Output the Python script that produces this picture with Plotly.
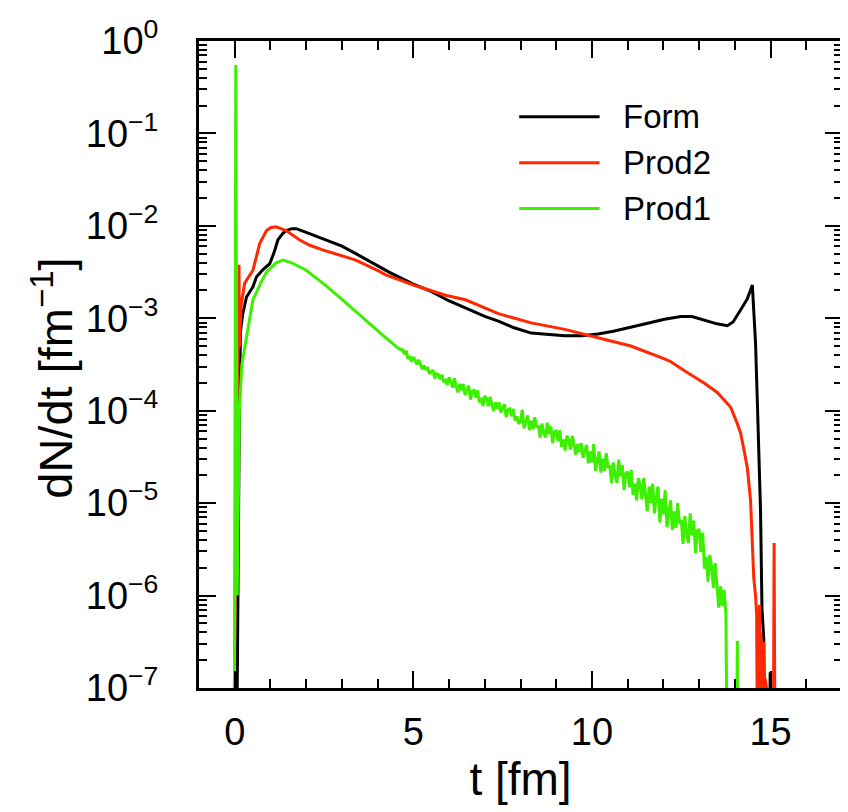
import plotly.graph_objects as go

# ---------------- data (time t in fm, log10 of dN/dt) -------------
form_t = [0.06, 0.08, 0.11, 0.13, 0.14, 0.16, 0.22, 0.33, 0.51, 0.61, 0.80, 0.98, 1.10, 1.21,
          1.35, 1.44, 1.60, 1.72, 2.00, 2.46, 3.00, 3.39, 4.04, 4.32, 5.00, 5.50, 5.99, 6.50,
          7.00, 7.38, 7.80, 8.30, 8.80, 9.24, 9.70, 10.17, 10.60, 11.09, 11.50, 12.03, 12.49,
          12.80, 13.14, 13.50, 13.79, 13.95, 14.16, 14.35, 14.49, 14.58, 14.63, 14.67, 14.72,
          14.76, 14.81, 14.83, 14.97, 14.99, 15.01]
form_log10 = [-7.5, -6.0, -5.0, -4.0, -3.7, -3.15, -2.96, -2.77, -2.66, -2.55, -2.47, -2.41,
              -2.29, -2.15, -2.08, -2.05, -2.03, -2.03, -2.07, -2.14, -2.22, -2.30, -2.44, -2.50,
              -2.63, -2.71, -2.81, -2.90, -2.98, -3.03, -3.10, -3.16, -3.18, -3.19, -3.19, -3.17,
              -3.14, -3.10, -3.06, -3.01, -2.98, -2.98, -3.02, -3.06, -3.08, -3.04, -2.91, -2.79,
              -2.64, -3.27, -3.90, -4.50, -5.09, -6.14, -6.47, -7.5, -7.5, -6.83, -7.5]

prod2_t = [-0.02, 0.00, 0.03, 0.06, 0.10, 0.12, 0.13, 0.18, 0.28, 0.51, 0.60, 0.70, 0.89, 1.00,
           1.16, 1.44, 1.81, 2.10, 2.46, 3.00, 3.39, 4.04, 4.23, 5.00, 5.90, 6.46, 7.38, 8.30,
           9.24, 10.17, 11.09, 12.03, 12.21, 12.60, 13.14, 13.50, 13.79, 13.88, 14.07, 14.16,
           14.26, 14.35, 14.44, 14.49, 14.53, 14.58, 14.61, 14.63, 14.65, 14.67, 14.69, 14.71,
           14.73, 14.75, 14.77, 14.79, 14.81, 14.83, 14.85, 15.08, 15.10, 15.12]
prod2_log10 = [-7.5, -6.0, -5.0, -4.0, -3.3, -2.42, -3.31, -2.85, -2.62, -2.48, -2.33, -2.19,
               -2.05, -2.02, -2.01, -2.05, -2.15, -2.21, -2.26, -2.32, -2.37, -2.49, -2.53, -2.64,
               -2.75, -2.80, -2.95, -3.05, -3.12, -3.21, -3.30, -3.44, -3.47, -3.57, -3.70, -3.80,
               -3.92, -3.96, -4.14, -4.24, -4.43, -4.62, -4.97, -5.44, -5.81, -6.00, -6.20, -7.5,
               -6.30, -7.5, -6.10, -7.5, -6.40, -7.5, -6.60, -7.5, -6.50, -7.5, -6.90, -7.5, -5.43,
               -7.5]

# Prod1: smooth early part, then the noisy histogram part (bins of 0.05 fm from 4.70 fm)
prod1_early_t = [-0.01, 0.00, 0.03, 0.07, 0.13, 0.20, 0.28, 0.37, 0.51, 0.61, 0.75, 0.89, 1.16,
                 1.35, 1.60, 2.00, 2.50, 2.93, 3.40, 3.86, 4.20, 4.60]
prod1_early_log10 = [-7.5, -6.0, -0.26, -6.0, -4.0, -3.5, -3.31, -3.13, -2.80, -2.72, -2.60,
                     -2.50, -2.40, -2.37, -2.40, -2.48, -2.63, -2.77, -2.93, -3.09, -3.20, -3.33]
prod1_noisy_log10 = [
    -3.34, -3.39, -3.35, -3.44, -3.41, -3.47, -3.42, -3.45, -3.50, -3.45,
    -3.51, -3.55, -3.51, -3.56, -3.53, -3.60, -3.58, -3.56, -3.65, -3.60,
    -3.61, -3.66, -3.61, -3.69, -3.67, -3.72, -3.64, -3.68, -3.75, -3.65,
    -3.74, -3.80, -3.71, -3.78, -3.71, -3.83, -3.77, -3.73, -3.88, -3.79,
    -3.78, -3.86, -3.78, -3.91, -3.86, -3.95, -3.84, -3.87, -3.95, -3.85,
    -3.94, -4.00, -3.91, -3.98, -3.91, -4.02, -3.97, -3.93, -4.07, -3.99,
    -3.98, -4.06, -3.98, -4.11, -4.06, -4.14, -4.12, -3.99, -4.19, -4.13,
    -4.05, -4.21, -4.11, -4.20, -4.07, -4.18, -4.16, -4.29, -4.14, -4.24,
    -4.29, -4.13, -4.25, -4.17, -4.35, -4.23, -4.22, -4.33, -4.21, -4.39,
    -4.31, -4.43, -4.27, -4.32, -4.42, -4.27, -4.40, -4.48, -4.36, -4.45,
    -4.35, -4.51, -4.43, -4.37, -4.57, -4.44, -4.56, -4.36, -4.65, -4.56,
    -4.44, -4.67, -4.52, -4.65, -4.46, -4.62, -4.59, -4.78, -4.56, -4.70,
    -4.78, -4.53, -4.71, -4.59, -4.86, -4.68, -4.66, -4.83, -4.64, -4.91,
    -4.79, -4.97, -4.73, -4.81, -4.96, -4.73, -4.94, -5.09, -4.82, -5.00,
    -4.79, -5.11, -4.94, -4.82, -5.21, -4.95, -5.12, -4.86, -5.26, -5.13,
    -4.97, -5.29, -5.09, -5.27, -5.00, -5.22, -5.18, -5.44, -5.14, -5.33,
    -5.43, -5.11, -5.35, -5.19, -5.54, -5.30, -5.28, -5.53, -5.32, -5.71,
    -5.58, -5.85, -5.56, -5.69, -5.92, -5.65, -5.94, -6.13, -5.90, -6.11,
    -5.94, -6.20]
prod1_noisy_t = [round(4.70 + 0.05 * i, 2) for i in range(len(prod1_noisy_log10))]
prod1_tail_t = [13.78, 14.05, 14.07, 14.09]
prod1_tail_log10 = [-7.5, -7.5, -6.49, -7.5]

prod1_t = prod1_early_t + prod1_noisy_t + prod1_tail_t
prod1_log10 = prod1_early_log10 + prod1_noisy_log10 + prod1_tail_log10

series_names = ["Form", "Prod2", "Prod1"]
series_colors = ["#000000", "#ff2800", "#3cf000"]

y_tick_exponents = [-7, -6, -5, -4, -3, -2, -1, 0]
y_tick_labels = ["10<sup>−7</sup>", "10<sup>−6</sup>", "10<sup>−5</sup>", "10<sup>−4</sup>",
                 "10<sup>−3</sup>", "10<sup>−2</sup>", "10<sup>−1</sup>", "10<sup>0</sup>"]

# ---------------- figure -------------
FONT = "Liberation Sans, Arial, sans-serif"
fig = go.Figure()
for t, lg, name, col in [(form_t, form_log10, series_names[0], series_colors[0]),
                         (prod2_t, prod2_log10, series_names[1], series_colors[1]),
                         (prod1_t, prod1_log10, series_names[2], series_colors[2])]:
    fig.add_trace(go.Scatter(x=t, y=[10 ** v for v in lg], mode="lines", name=name,
                             line=dict(color=col, width=3), showlegend=False))

# empty helper traces so the overlaid minor-tick axes are drawn
fig.add_trace(go.Scatter(x=[], y=[], xaxis="x2", yaxis="y", showlegend=False, hoverinfo="skip"))
fig.add_trace(go.Scatter(x=[], y=[], xaxis="x", yaxis="y2", showlegend=False, hoverinfo="skip"))

fig.update_layout(
    width=840, height=804,
    margin=dict(l=191, r=3, t=33, b=124),
    paper_bgcolor="white", plot_bgcolor="white",
    font=dict(family=FONT, color="black"),
    xaxis=dict(
        range=[-1, 17], tick0=0, dtick=5, ticks="inside", ticklen=17, tickwidth=2,
        tickcolor="black", showline=True, linewidth=3, linecolor="black", mirror="ticks",
        showgrid=False, zeroline=False, tickfont=dict(size=38, family=FONT),
        ticklabelstandoff=8,
        title=dict(text="t [fm]", font=dict(size=46, family=FONT), standoff=4),
    ),
    yaxis=dict(
        type="log", range=[-7, 0],
        tickmode="array", tickvals=[10 ** e for e in y_tick_exponents], ticktext=y_tick_labels,
        ticks="inside", ticklen=17, tickwidth=2, tickcolor="black",
        showline=True, linewidth=3, linecolor="black", mirror="ticks",
        showgrid=False, zeroline=False, tickfont=dict(size=38, family=FONT),
        ticklabelstandoff=30,
    ),
    xaxis2=dict(
        overlaying="x", anchor="y", side="bottom", range=[-1, 17], tick0=0, dtick=1,
        ticks="inside", ticklen=9, tickwidth=2, tickcolor="black", showticklabels=False,
        mirror="ticks", showline=False, showgrid=False, zeroline=False,
    ),
    yaxis2=dict(
        overlaying="y", anchor="x", side="left", type="log", range=[-7, 0], dtick="D1",
        ticks="inside", ticklen=8, tickwidth=2, tickcolor="black", showticklabels=False,
        mirror="ticks", showline=False, showgrid=False, zeroline=False,
    ),
)

# y-axis title placed like the original (slightly below the axis centre)
fig.add_annotation(xref="paper", yref="paper", x=-0.2276, y=0.479, text="dN/dt [fm<sup>−1</sup>]",
                   textangle=-90, showarrow=False, xanchor="center", yanchor="middle",
                   font=dict(size=47, family=FONT, color="black"))

# manual legend (long line samples like the original)
leg_y = [0.883, 0.812, 0.741]
for name, col, yy in zip(series_names, series_colors, leg_y):
    fig.add_shape(type="line", xref="paper", yref="paper", x0=0.498, x1=0.623, y0=yy, y1=yy,
                  line=dict(color=col, width=3))
    fig.add_annotation(xref="paper", yref="paper", x=0.656, y=yy, text=name, showarrow=False,
                       xanchor="left", yanchor="middle", font=dict(size=33, family=FONT, color="black"))

fig.write_html("out.html")
